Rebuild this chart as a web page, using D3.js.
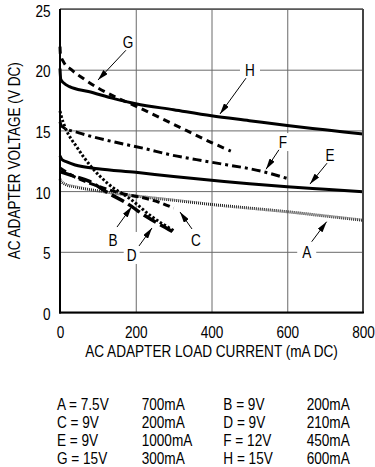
<!DOCTYPE html>
<html><head><meta charset="utf-8">
<script src="https://cdn.jsdelivr.net/npm/d3@7"></script>
<style>
html,body{margin:0;padding:0;background:#fff;}
svg{display:block;}
text{font-family:"Liberation Sans",Arial,Helvetica,sans-serif;fill:#000;}
</style></head><body>
<svg id="c" width="375" height="467"></svg>
<script>
// ---- data ----
const xTicks = [0, 200, 400, 600, 800];
const yTicks = [0, 5, 10, 15, 20, 25];
const xTitle = "AC ADAPTER LOAD CURRENT (mA DC)";
const yTitle = "AC ADAPTER VOLTAGE (V DC)";

const currentA = [0, 3, 15, 40, 100, 200, 300, 400, 500, 600, 700, 800];
const voltageA = [11.0, 10.8, 10.55, 10.35, 10.02, 9.6, 9.25, 8.9, 8.6, 8.3, 7.95, 7.6];
const currentB = [0, 3, 13, 45, 80, 127, 188, 240, 300];
const voltageB = [16.6, 16.2, 15.3, 13.6, 12.1, 10.6, 9.3, 7.95, 6.75];
const currentC = [0, 20, 50, 83, 130, 171, 220, 260, 300];
const voltageC = [11.9, 11.5, 11.0, 10.6, 10.1, 9.75, 9.45, 9.1, 8.6];
const currentD = [0, 30, 78, 127, 171, 228, 298];
const voltageD = [11.6, 11.3, 10.8, 9.85, 9.1, 7.9, 6.65];
const currentE = [0, 5, 18, 40, 100, 200, 300, 400, 500, 600, 700, 800];
const voltageE = [12.9, 12.6, 12.4, 12.15, 11.85, 11.55, 11.2, 10.9, 10.6, 10.35, 10.15, 9.95];
const currentF = [0, 4, 50, 83, 150, 224, 290, 396, 536, 605];
const voltageF = [15.7, 15.35, 14.8, 14.5, 14.0, 13.5, 13.0, 12.4, 11.6, 11.0];
const currentG = [0, 1, 10, 30, 65, 100, 150, 200, 300, 400, 451];
const voltageG = [21.9, 21.3, 20.6, 20.0, 19.2, 18.5, 17.7, 17.0, 15.5, 14.0, 13.3];
const currentH = [0, 2, 10, 25, 75, 145, 200, 300, 400, 500, 600, 700, 800];
const voltageH = [20.1, 19.2, 18.9, 18.6, 18.2, 17.6, 17.2, 16.7, 16.2, 15.8, 15.4, 15.05, 14.7];

const seriesNames = ["A", "B", "C", "D", "E", "F", "G", "H"];
const seriesCurrents = [currentA, currentB, currentC, currentD, currentE, currentF, currentG, currentH];
const seriesVoltages = [voltageA, voltageB, voltageC, voltageD, voltageE, voltageF, voltageG, voltageH];

const legendVolts = ["7.5V", "9V", "9V", "9V", "9V", "12V", "15V", "15V"];
const legendCurrents = ["700mA", "200mA", "200mA", "210mA", "1000mA", "450mA", "300mA", "600mA"];

// ---- styles / layout ----
const styles = {
  A: {w: 3, dash: "1,1", color: "#222"},
  B: {w: 3, dash: "2.5,2", color: "#000"},
  C: {w: 3, dash: "7,4", color: "#000"},
  D: {w: 3.5, dash: "14,5", color: "#000"},
  E: {w: 3, dash: null, color: "#000"},
  F: {w: 3, dash: "9,4,3,4", color: "#000"},
  G: {w: 3, dash: "7,5", color: "#000"},
  H: {w: 3, dash: null, color: "#000"}
};
// annotation placement in data space: label centre, arrow start, arrow tip
const annot = {
  G: {lx: 179.5, ly: 22.28, ax: 174, ay: 21.6, tx: 100.3, ty: 19.15, box: null},
  H: {lx: 501.6, ly: 19.98, ax: 491, ay: 19.3, tx: 422.4, ty: 16.35, box: [20, 16, 0]},
  F: {lx: 588.8, ly: 14.04, ax: 578, ay: 13.4, tx: 544, ty: 11.8, box: [16, 18, 0]},
  E: {lx: 712.9, ly: 12.97, ax: 705, ay: 12.3, tx: 660, ty: 10.58, box: null},
  A: {lx: 651.4, ly: 5.0, ax: 664.5, ay: 5.83, tx: 704, ty: 7.48, box: [19, 16, 0]},
  B: {lx: 140, ly: 5.97, ax: 150.5, ay: 7.04, tx: 189.3, ty: 8.71, box: null},
  C: {lx: 359, ly: 5.97, ax: 348.5, ay: 6.88, tx: 316.8, ty: 8.28, box: null},
  D: {lx: 189.3, ly: 4.74, ax: 208.6, ay: 5.48, tx: 242.9, ty: 6.96, box: [16, 32, -7]}
};

const SX = 0.85, FS = 16;
const pL = 60, pR = 363, pT = 9, pB = 312.5;

const svg = d3.select("#c");
const x = d3.scaleLinear().domain([0, 800]).range([pL, pR]);
const y = d3.scaleLinear().domain([0, 25]).range([pB, pT]);

function ctext(g, px, py, str, anchor, rot) {
  return g.append("text")
    .attr("transform", `translate(${px},${py})` + (rot ? ` rotate(${rot})` : "") + ` scale(${SX},1)`)
    .attr("text-anchor", anchor || "start")
    .style("font-size", FS + "px")
    .text(str);
}

// arrow marker
svg.append("defs").append("marker")
  .attr("id", "ah").attr("markerUnits", "userSpaceOnUse")
  .attr("viewBox", "0 0 11 6").attr("refX", 11).attr("refY", 3)
  .attr("markerWidth", 11).attr("markerHeight", 6).attr("orient", "auto")
  .append("path").attr("d", "M0,0L11,3L0,6Z").attr("fill", "#000");

// grid via axes
const gx = svg.append("g").attr("transform", `translate(0,${pB})`)
  .call(d3.axisBottom(x).tickValues(xTicks).tickSize(-(pB - pT)).tickFormat(d3.format("d")));
gx.select(".domain").remove();
gx.selectAll(".tick line").attr("stroke", "#6a6a6a").attr("stroke-width", 1);
gx.selectAll(".tick text").attr("y", 25.5).attr("dy", 0)
  .attr("transform", `scale(${SX},1)`).style("font-size", FS + "px")
  .style("font-family", '"Liberation Sans",Arial,sans-serif');

const gy = svg.append("g").attr("transform", `translate(${pL},0)`)
  .call(d3.axisLeft(y).tickValues(yTicks).tickSize(-(pR - pL)).tickFormat(d3.format("d")));
gy.select(".domain").remove();
gy.selectAll(".tick line").attr("stroke", "#6a6a6a").attr("stroke-width", 1);
gy.selectAll(".tick text").attr("x", -9.5 / SX).attr("y", 7).attr("dy", 0)
  .attr("transform", `scale(${SX},1)`).style("font-size", FS + "px")
  .style("font-family", '"Liberation Sans",Arial,sans-serif');

// white boxes behind labels that sit on grid lines
const boxG = svg.append("g");
seriesNames.forEach(n => {
  const a = annot[n];
  if (!a.box) return;
  const cx = x(a.lx), cy = y(a.ly);
  boxG.append("rect").attr("x", cx - a.box[0] / 2).attr("y", cy - a.box[1] / 2 + a.box[2])
    .attr("width", a.box[0]).attr("height", a.box[1]).attr("fill", "#fff");
});

// curves
const line = d3.line().x(d => x(d[0])).y(d => y(d[1])).curve(d3.curveMonotoneX);
seriesNames.forEach((n, i) => {
  const pts = seriesCurrents[i].map((c, j) => [c, seriesVoltages[i][j]]);
  const s = styles[n];
  svg.append("path").datum(pts).attr("d", line)
    .attr("fill", "none").attr("stroke", s.color).attr("stroke-width", s.w)
    .attr("stroke-dasharray", s.dash).attr("stroke-linejoin", "round");
});

// frame
svg.append("line").attr("x1", pL).attr("x2", pR).attr("y1", pT).attr("y2", pT)
  .attr("stroke", "#555").attr("stroke-width", 1.3);
svg.append("line").attr("x1", pR).attr("x2", pR).attr("y1", pT).attr("y2", pB)
  .attr("stroke", "#444").attr("stroke-width", 2);
svg.append("line").attr("x1", pL).attr("x2", pL).attr("y1", pT).attr("y2", pB + 1)
  .attr("stroke", "#000").attr("stroke-width", 2);
svg.append("line").attr("x1", pL - 1).attr("x2", pR + 1).attr("y1", pB).attr("y2", pB)
  .attr("stroke", "#000").attr("stroke-width", 2);

// labels and arrows
const annG = svg.append("g");
seriesNames.forEach(n => {
  const a = annot[n];
  ctext(annG, x(a.lx), y(a.ly) + 5.7, n, "middle");
  annG.append("line").attr("x1", x(a.ax)).attr("y1", y(a.ay)).attr("x2", x(a.tx)).attr("y2", y(a.ty))
    .attr("stroke", "#000").attr("stroke-width", 1).attr("marker-end", "url(#ah)");
});

// axis titles
ctext(svg, (pL + pR) / 2, 357, xTitle, "middle");
ctext(svg, 20, (pT + pB) / 2, yTitle, "middle", -90);

// legend
const colX = [57, 141.7, 223.3, 306.7];
const rowY = [409.5, 427.5, 445.5, 463.5];
seriesNames.forEach((n, i) => {
  const r = Math.floor(i / 2), c = i % 2;
  ctext(svg, colX[c * 2], rowY[r], `${n} = ${legendVolts[i]}`, "start");
  ctext(svg, colX[c * 2 + 1], rowY[r], legendCurrents[i], "start");
});
</script>
</body></html>
